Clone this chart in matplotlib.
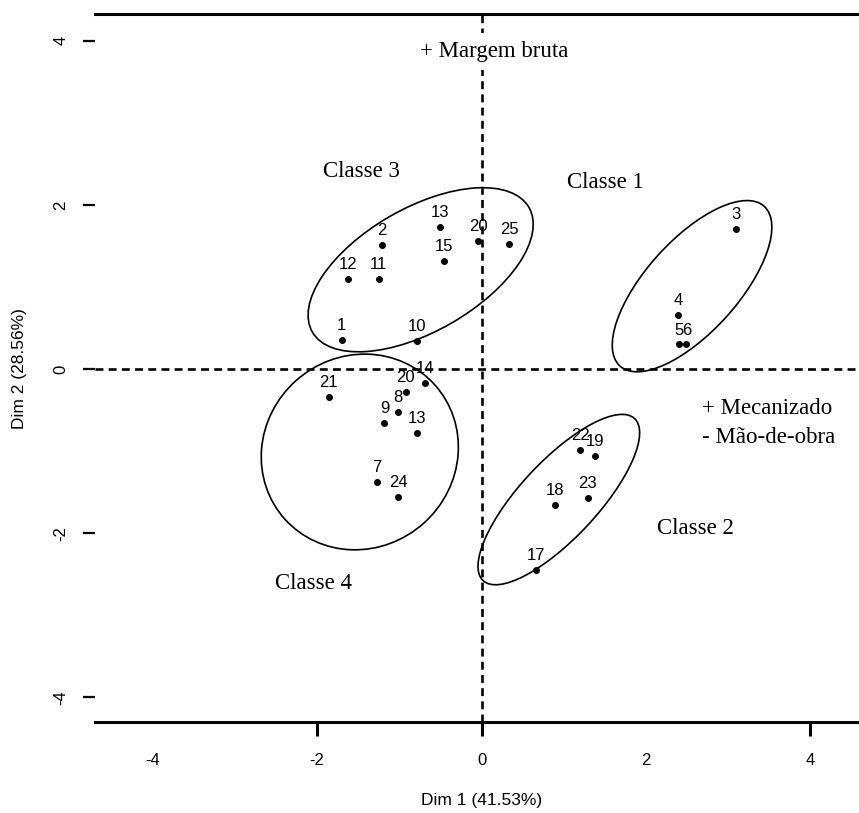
import matplotlib.pyplot as plt
from matplotlib.patches import Ellipse

# Indivíduos no plano fatorial (Dim 1 x Dim 2)
rotulos = ['1', '2', '3', '4', '5', '6', '7', '8', '9', '10', '11', '12', '13',
           '13', '14', '15', '17', '18', '19', '20', '20', '21', '22', '23', '24', '25']
dim1 = [-1.70, -1.21, 3.09, 2.39, 2.40, 2.49, -1.27, -1.02, -1.18, -0.79, -1.25, -1.62, -0.50,
        -0.79, -0.69, -0.46, 0.66, 0.89, 1.38, -0.04, -0.92, -1.86, 1.20, 1.29, -1.01, 0.34]
dim2 = [0.35, 1.51, 1.71, 0.66, 0.30, 0.30, -1.38, -0.52, -0.66, 0.34, 1.10, 1.10, 1.73,
        -0.78, -0.17, 1.32, -2.45, -1.66, -1.06, 1.56, -0.28, -0.34, -0.99, -1.57, -1.56, 1.52]

# Elipses das classes
classes = ['Classe 1', 'Classe 2', 'Classe 3', 'Classe 4']
elipse_cx = [2.56, 0.94, -0.74, -1.48]
elipse_cy = [1.01, -1.59, 1.21, -1.01]
elipse_larg = [2.62, 2.70, 3.04, 2.45]
elipse_alt = [1.12, 0.94, 1.50, 2.33]
elipse_ang = [48, 47, 30, 42]
classe_tx = [1.51, 2.60, -1.46, -2.04]
classe_ty = [2.27, -1.94, 2.41, -2.61]

# Anotações dos eixos
nota_topo = '+ Margem bruta'
nota_dir = ['+ Mecanizado', '- Mão-de-obra']
ticks = [-4, -2, 0, 2, 4]
xlabel = 'Dim 1 (41.53%)'
ylabel = 'Dim 2 (28.56%)'

serif = 'Liberation Serif'
sans = 'Liberation Sans'

fig = plt.figure(figsize=(8.59, 8.13), dpi=100)
ax = fig.add_axes([95 / 859, 1 - 722 / 813, 1 - 95 / 859, (722 - 14.5) / 813])
ax.set_xlim(-4.70, 4.59)
ax.set_ylim(-4.30, 4.32)

# Moldura: só linhas superior e inferior
for lado in ['left', 'right']:
  ax.spines[lado].set_visible(False)
for lado in ['top', 'bottom']:
  ax.spines[lado].set_linewidth(2.2)

ax.axhline(0, color='black', lw=1.9, dashes=(3, 2))
ax.axvline(0, color='black', lw=1.9, dashes=(3, 2))

# Elipses
for i in range(len(classes)):
  e = Ellipse((elipse_cx[i], elipse_cy[i]), elipse_larg[i], elipse_alt[i],
              angle=elipse_ang[i], fill=False, edgecolor='black', lw=1.2)
  ax.add_patch(e)
  ax.text(classe_tx[i], classe_ty[i], classes[i], family=serif, fontsize=16.5,
          ha='center', va='center')

# Pontos e rótulos
ax.scatter(dim1, dim2, s=16, color='black', zorder=3)
for r, x, y in zip(rotulos, dim1, dim2):
  ax.annotate(r, (x, y), xytext=(0, 5), textcoords='offset points',
              ha='center', va='bottom', family=sans, fontsize=12)

# Texto do topo cobre a linha tracejada
ax.text(0.16, 3.87, nota_topo, family=serif, fontsize=16.5, ha='center', va='center',
        zorder=4, bbox=dict(facecolor='white', edgecolor='none', pad=6))
ax.text(2.68, -0.48, nota_dir[0], family=serif, fontsize=16.5, ha='left', va='center')
ax.text(2.68, -0.83, nota_dir[1], family=serif, fontsize=16.5, ha='left', va='center')

# Eixos
ax.set_xticks(ticks)
ax.set_yticks(ticks)
ax.set_xticklabels([str(t) for t in ticks], family=sans, fontsize=12)
ax.set_yticklabels([str(t) for t in ticks], family=sans, fontsize=12, rotation=90, va='center')
ax.tick_params(axis='x', direction='out', length=10, width=2.2, pad=12)
ax.tick_params(axis='y', direction='out', length=9, width=1.6, pad=10)
for t, tick in zip(ticks, ax.xaxis.get_major_ticks()):
  if t in (-4, 2):
    tick.tick1line.set_visible(False)

fig.text(482 / 859, 1 - 800 / 813, xlabel, family=sans, fontsize=12.5, ha='center', va='center')
fig.text(20 / 859, 1 - 369 / 813, ylabel, family=sans, fontsize=12.5, ha='center', va='center',
         rotation=90)

fig.savefig('out.png', dpi=100)
